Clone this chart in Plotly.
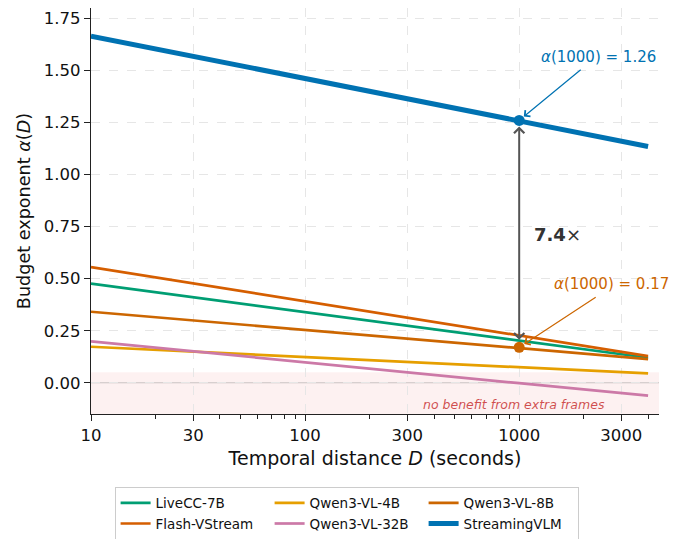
import math
import plotly.graph_objects as go

# ---------------- data ----------------
D = [10, 100, 1000, 4000]
livecc_7b = [0.476, 0.340, 0.203, 0.120]
flash_vstream = [0.556, 0.392, 0.227, 0.128]
qwen3_vl_4b = [0.173, 0.124, 0.077, 0.045]
qwen3_vl_32b = [0.199, 0.097, -0.002, -0.062]
qwen3_vl_8b = [0.341, 0.253, 0.165, 0.114]
streamingvlm = [1.665, 1.463, 1.260, 1.135]

series_names = ["LiveCC-7B", "Flash-VStream", "Qwen3-VL-4B", "Qwen3-VL-32B", "Qwen3-VL-8B", "StreamingVLM"]
series_values = [livecc_7b, flash_vstream, qwen3_vl_4b, qwen3_vl_32b, qwen3_vl_8b, streamingvlm]
series_colors = ["#009E73", "#D55E00", "#E69F00", "#CC79A7", "#CC6600", "#0072B2"]
series_widths = [2.7, 2.7, 2.7, 2.7, 2.7, 5]
legend_ranks = [1, 4, 2, 5, 3, 6]

highlight_D = 1000
alpha_stream = 1.26
alpha_base = 0.17
ratio_label = "7.4"

x_tickvals = [10, 30, 100, 300, 1000, 3000]
x_ticktext = ["10", "30", "100", "300", "1000", "3000"]
x_minor = [20, 40, 50, 60, 70, 80, 90, 200, 400, 500, 600, 700, 800, 900, 2000, 4000]

FONT = "DejaVu Sans"
LX = math.log10  # annotation positions on a log axis are given in log10 units

fig = go.Figure()

for name, vals, col, w, rk in zip(series_names, series_values, series_colors, series_widths, legend_ranks):
    fig.add_trace(go.Scatter(x=D, y=vals, mode="lines", name=name,
                             line=dict(color=col, width=w), legendrank=rk))

# highlight dots
fig.add_trace(go.Scatter(x=[highlight_D], y=[alpha_stream], mode="markers",
                         marker=dict(color="#0072B2", size=11), showlegend=False))
fig.add_trace(go.Scatter(x=[highlight_D], y=[alpha_base], mode="markers",
                         marker=dict(color="#CC6600", size=11), showlegend=False))

# shaded "no benefit" region
fig.add_shape(type="rect", xref="paper", x0=0, x1=1, yref="y", y0=-0.15, y1=0.05,
              fillcolor="rgba(220,60,60,0.07)", line_width=0, layer="below")
fig.add_shape(type="line", xref="paper", x0=0, x1=1, yref="y", y0=0, y1=0,
              line=dict(color="rgba(150,150,150,0.5)", width=1), layer="below")

fig.add_annotation(x=LX(950), y=-0.103, xref="x", yref="y", text="<i>no benefit from extra frames</i>",
                   showarrow=False, font=dict(family=FONT, size=12.5, color="rgba(200,50,50,0.85)"))

# blue label + arrow
fig.add_annotation(x=LX(highlight_D), y=alpha_stream, xref="x", yref="y", text="",
                   showarrow=True, ax=63, ay=-52, arrowhead=4, arrowsize=1.3, arrowwidth=1.2,
                   arrowcolor="#0072B2", standoff=6)
fig.add_annotation(x=3.372, y=1.567, xref="x", yref="y",
                   text="<i>α</i>(1000) = 1.26", showarrow=False,
                   font=dict(family=FONT, size=15, color="#0072B2"))

# orange label + arrow
fig.add_annotation(x=LX(highlight_D), y=alpha_base, xref="x", yref="y", text="",
                   showarrow=True, ax=78, ay=-51, arrowhead=4, arrowsize=1.3, arrowwidth=1.2,
                   arrowcolor="#CC6600", standoff=6)
fig.add_annotation(x=3.43, y=0.473, xref="x", yref="y",
                   text="<i>α</i>(1000) = 0.17", showarrow=False,
                   font=dict(family=FONT, size=15, color="#CC6600"))

# double arrow
fig.add_annotation(x=LX(highlight_D), y=alpha_stream, xref="x", yref="y",
                   ax=LX(highlight_D), ay=alpha_base, axref="x", ayref="y", text="",
                   showarrow=True, arrowside="end+start", arrowhead=4, startarrowhead=4,
                   arrowsize=1, startarrowsize=1, arrowwidth=2, arrowcolor="#555555",
                   standoff=6, startstandoff=6)
fig.add_annotation(x=3.059, y=0.7115, xref="x", yref="y", xanchor="left",
                   text="<b>" + ratio_label + "</b>×", showarrow=False,
                   font=dict(family=FONT, size=18, color="#333333"))

fig.update_xaxes(type="log", range=[1, 3.653],
                 tickmode="array", tickvals=x_tickvals, ticktext=x_ticktext,
                 ticks="outside", ticklen=6, tickwidth=1.2, tickcolor="#222",
                 showline=True, linecolor="#222", linewidth=1.3,
                 showgrid=True, gridcolor="#e6e6e6", griddash="dash", gridwidth=1,
                 zeroline=False, automargin=False,
                 minor=dict(tickmode="array", tickvals=x_minor, ticks="outside", ticklen=3.5,
                            tickcolor="#222", tickwidth=1, showgrid=False),
                 tickfont=dict(family=FONT, size=16.5, color="#111"),
                 title=dict(text="Temporal distance <i>D</i> (seconds)",
                            font=dict(family=FONT, size=19, color="#111"), standoff=7))
fig.update_yaxes(range=[-0.15, 1.80], tickmode="linear", tick0=0, dtick=0.25, tickformat=".2f",
                 ticks="outside", ticklen=6, tickwidth=1.2, tickcolor="#222",
                 showline=True, linecolor="#222", linewidth=1.3,
                 showgrid=True, gridcolor="#e6e6e6", griddash="dash", gridwidth=1,
                 zeroline=False, automargin=False,
                 tickfont=dict(family=FONT, size=16.5, color="#111"),
                 title=dict(text="Budget exponent <i>α</i>(<i>D</i>)",
                            font=dict(family=FONT, size=17.6, color="#111"), standoff=8))

fig.update_layout(
    width=675, height=539,
    margin=dict(l=91, r=16, t=8, b=125, autoexpand=False),
    plot_bgcolor="white", paper_bgcolor="white",
    font=dict(family=FONT),
    legend=dict(orientation="h", x=0.45, xanchor="center", y=-0.179, yanchor="top",
                entrywidth=109, font=dict(family=FONT, size=13.5, color="#111"),
                bordercolor="#cccccc", borderwidth=1, bgcolor="white",
                traceorder="normal", itemwidth=30),
)

fig.write_html("out.html", config={"displayModeBar": False},
               post_script="document.body.style.margin='0px';")
